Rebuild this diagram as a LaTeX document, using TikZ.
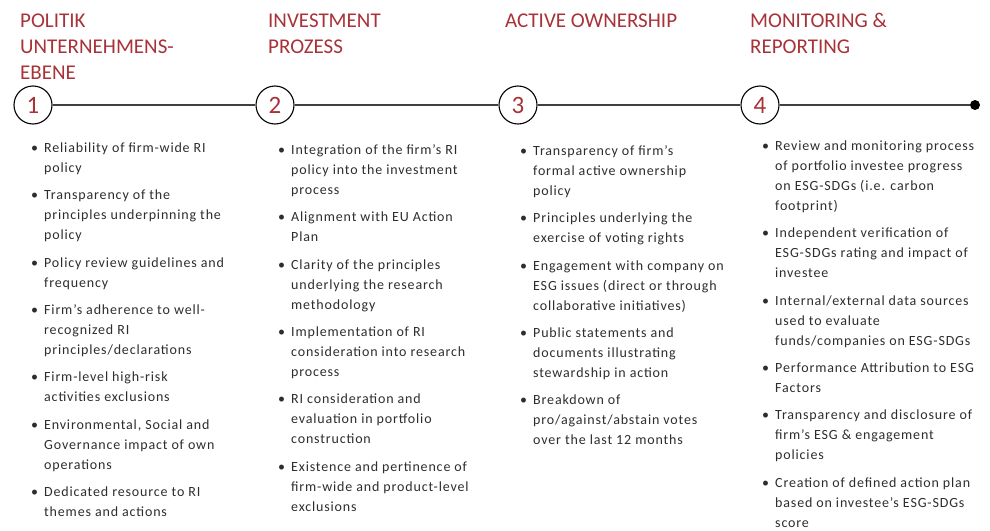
\documentclass[tikz,border=0pt]{standalone}
\usepackage{fontspec}
\setmainfont{Carlito}
\newfontfamily\bodyfam[LetterSpace=6]{Carlito}
\usepackage{tikz}
\usetikzlibrary{positioning}

\definecolor{ebred}{RGB}{168,50,56}
\definecolor{ebtext}{RGB}{45,45,45}
\newcommand\headfont{\fontsize{21}{26}\selectfont}
\newcommand\numfont{\fontsize{25}{25}\selectfont}
\newcommand\bodyfont{\bodyfam\fontsize{14}{20}\selectfont}
\newcommand\bul{\makebox[0pt][r]{\textbullet\hspace{6pt}}}
\newcommand\itm[1]{\bul\strut#1\strut}

\begin{document}
\begin{tikzpicture}[x=1pt,y=-1pt,node distance=7pt,
        heading/.style={anchor=north west, inner sep=0pt, align=left, text=ebred, font=\headfont},
        stage/.style={circle, draw=black, line width=1.1pt, minimum size=38pt, inner sep=0pt, text=ebred, font=\numfont},
        entry/.style={anchor=north west, inner sep=0pt, align=left, text=ebtext, font=\bodyfont},
        under/.style={below=of #1.south west, anchor=north west},
        track/.style={draw=black!75, line width=1.1pt}]
        \useasboundingbox (0,0) rectangle (990,530);
        % headings
        \node[heading] (h1) at (20,9) {\strut POLITIK\\UNTERNEHMENS-\\EBENE};
        \node[heading] (h2) at (268,9) {\strut INVESTMENT\\PROZESS};
        \node[heading] (h3) at (505,9) {\strut ACTIVE OWNERSHIP};
        \node[heading] (h4) at (750,9) {\strut MONITORING \&\\REPORTING};
        % timeline
        \node[stage] (s1) at (33,105) {1};
        \node[stage] (s2) at (275,105) {2};
        \node[stage] (s3) at (518,105) {3};
        \node[stage] (s4) at (760,105) {4};
        \node[circle, fill=black, minimum size=10pt, inner sep=0pt] (end) at (975,105) {};
        \draw[track] (s1) -- (s2);
        \draw[track] (s2) -- (s3);
        \draw[track] (s3) -- (s4);
        \draw[track] (s4) -- (end);
        % column 1
        \node[entry] (p1a) at (44,138) {\itm{Reliability of firm-wide RI\\policy}};
        \node[entry, under=p1a] (p1b) {\itm{Transparency of the\\principles underpinning the\\policy}};
        \node[entry, under=p1b] (p1c) {\itm{Policy review guidelines and\\frequency}};
        \node[entry, under=p1c] (p1d) {\itm{Firm’s adherence to well-\\recognized RI\\principles/declarations}};
        \node[entry, under=p1d] (p1e) {\itm{Firm-level high-risk\\activities exclusions}};
        \node[entry, under=p1e] (p1f) {\itm{Environmental, Social and\\Governance impact of own\\operations}};
        \node[entry, under=p1f] (p1g) {\itm{Dedicated resource to RI\\themes and actions}};
        % column 2
        \node[entry] (p2a) at (291,140) {\itm{Integration of the firm’s RI\\policy into the investment\\process}};
        \node[entry, under=p2a] (p2b) {\itm{Alignment with EU Action\\Plan}};
        \node[entry, under=p2b] (p2c) {\itm{Clarity of the principles\\underlying the research\\methodology}};
        \node[entry, under=p2c] (p2d) {\itm{Implementation of RI\\consideration into research\\process}};
        \node[entry, under=p2d] (p2e) {\itm{RI consideration and\\evaluation in portfolio\\construction}};
        \node[entry, under=p2e] (p2f) {\itm{Existence and pertinence of\\firm-wide and product-level\\exclusions}};
        % column 3
        \node[entry] (p3a) at (533,141) {\itm{Transparency of firm’s\\formal active ownership\\policy}};
        \node[entry, under=p3a] (p3b) {\itm{Principles underlying the\\exercise of voting rights}};
        \node[entry, under=p3b] (p3c) {\itm{Engagement with company on\\ESG issues (direct or through\\collaborative initiatives)}};
        \node[entry, under=p3c] (p3d) {\itm{Public statements and\\documents illustrating\\stewardship in action}};
        \node[entry, under=p3d] (p3e) {\itm{Breakdown of\\pro/against/abstain votes\\over the last 12 months}};
        % column 4
        \node[entry] (p4a) at (775,136) {\itm{Review and monitoring process\\of portfolio investee progress\\on ESG-SDGs (i.e. carbon\\footprint)}};
        \node[entry, under=p4a] (p4b) {\itm{Independent verification of\\ESG-SDGs rating and impact of\\investee}};
        \node[entry, under=p4b] (p4c) {\itm{Internal/external data sources\\used to evaluate\\funds/companies on ESG-SDGs}};
        \node[entry, under=p4c] (p4d) {\itm{Performance Attribution to ESG\\Factors}};
        \node[entry, under=p4d] (p4e) {\itm{Transparency and disclosure of\\firm’s ESG \& engagement\\policies}};
        \node[entry, under=p4e] (p4f) {\itm{Creation of defined action plan\\based on investee’s ESG-SDGs\\score}};
\end{tikzpicture}
\end{document}
